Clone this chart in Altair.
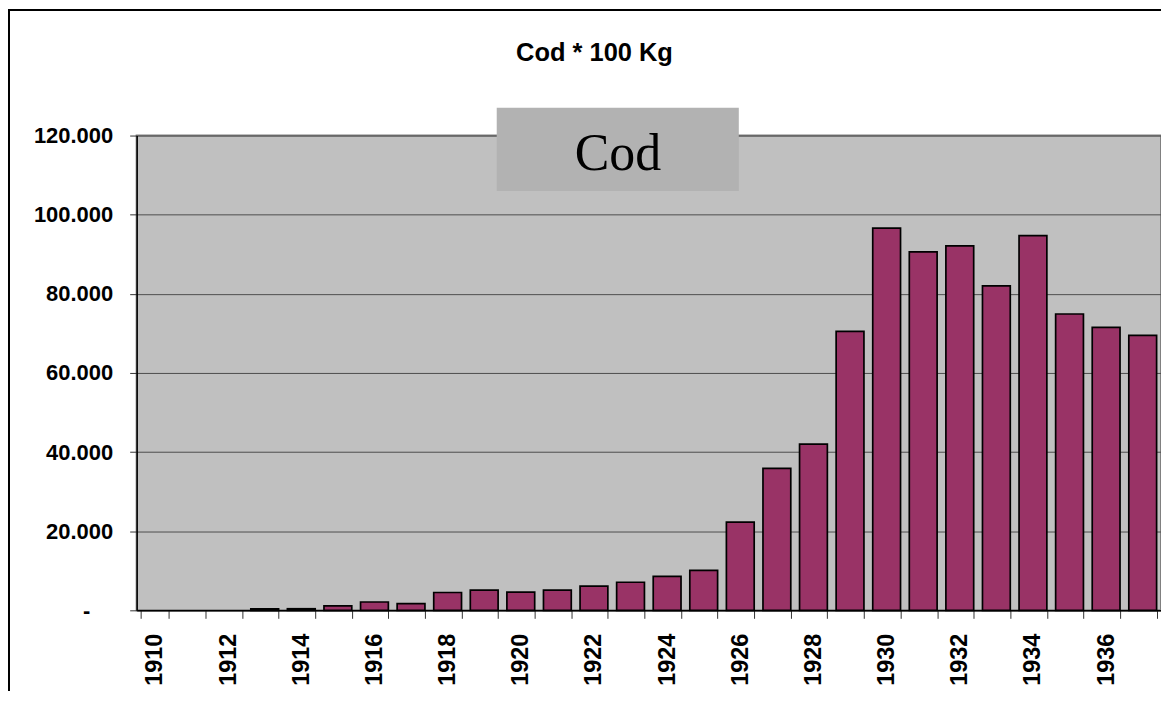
import altair as alt
import pandas as pd

years = list(range(1910, 1938))
cod = [0, 0, 0, 400, 400, 1100, 2100, 1700, 4500, 5100, 4600, 5100, 6100, 7100,
       8600, 10100, 22300, 35900, 42000, 70500, 96600, 90600, 92100, 82000,
       94700, 74900, 71500, 69500]
y_ticks = [0, 20000, 40000, 60000, 80000, 100000, 120000]
title_text = "Cod * 100 Kg"
legend_text = "Cod"

df = pd.DataFrame({"year": years, "cod": cod})
one = pd.DataFrame({"k": [0]})

W, H = 1027, 476

bars = alt.Chart(df).mark_bar(color="#993366", stroke="black", strokeWidth=1.7).encode(
    x=alt.X("year:O", title=None,
            scale=alt.Scale(paddingInner=0.24, paddingOuter=0.12),
            axis=alt.Axis(labelAngle=270, labelFont="Liberation Sans", labelFontSize=23.5,
                          labelFontWeight="bold", labelColor="black", labelPadding=15,
                          labelExpr="toNumber(datum.value) % 2 == 0 ? datum.value : ''",
                          tickBand="extent", tickSize=8, tickColor="#333333", tickWidth=1,
                          domainColor="black", domainWidth=1.5, grid=False,
                          labelOverlap=False)),
    y=alt.Y("cod:Q", title=None,
            scale=alt.Scale(domain=[0, 120000], nice=False),
            axis=alt.Axis(values=y_ticks, labelFont="Liberation Sans", labelFontSize=22,
                          labelFontWeight="bold", labelColor="black",
                          labelPadding={"condition": {"test": "datum.value == 0", "value": 40}, "value": 17},
                          labelExpr="datum.value == 0 ? '-' : format(datum.value / 1000, 'd') + '.000'",
                          tickSize=7, tickColor="#333333", domainColor="black", domainWidth=1.5,
                          grid=True, gridColor="#4d4d4d", gridWidth=1)),
    opacity=alt.condition("datum.cod == 0", alt.value(0), alt.value(1)),
)

border = alt.Chart(one).mark_rect(fill=None, stroke="black", strokeWidth=2, clip=False).encode(
    x=alt.value(-128), x2=alt.value(1200), y=alt.value(-126), y2=alt.value(700)
)

box = alt.Chart(one).mark_rect(fill="#b2b2b2", clip=False).encode(
    x=alt.value(361), x2=alt.value(603.7), y=alt.value(-28), y2=alt.value(55.7)
)

box_text = alt.Chart(one).mark_text(font="Liberation Serif", fontSize=52, color="black",
                                    align="center", baseline="alphabetic").encode(
    x=alt.value(482.5), y=alt.value(34.5), text=alt.value(legend_text)
)

title = alt.Chart(one).mark_text(font="Liberation Sans", fontSize=25.5, fontWeight="bold",
                                 color="black", align="center", baseline="alphabetic").encode(
    x=alt.value(459), y=alt.value(-74.3), text=alt.value(title_text)
)

chart = alt.layer(border, bars, box, box_text, title).properties(
    width=W, height=H,
    autosize=alt.AutoSizeParams(type="none"),
    padding={"left": 129, "top": 127, "right": 0, "bottom": 80},
    background="white",
).configure_view(fill="#c0c0c0", stroke="#808080", strokeWidth=2)

chart.save("out.html", embed_options={"renderer": "svg", "actions": False})
